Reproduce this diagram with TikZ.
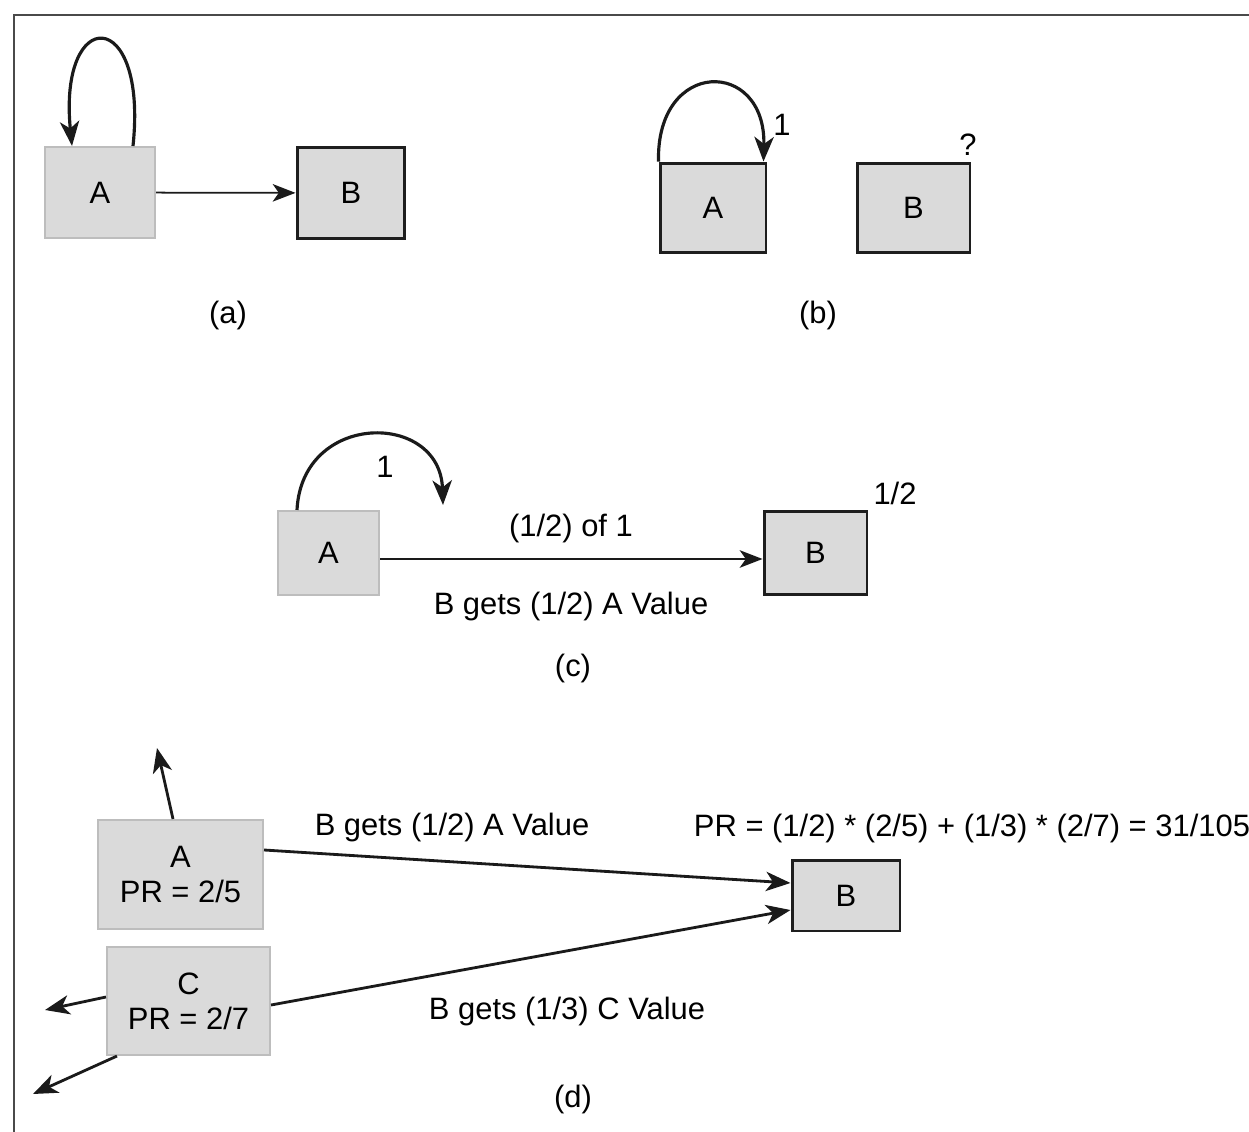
\documentclass[tikz,border=0pt]{standalone}
\usepackage{fontspec}
\setmainfont{Liberation Sans}
\usepackage{tikz}
\usetikzlibrary{positioning, calc, arrows.meta}
\definecolor{prBoxBg}{HTML}{DADADA}
\definecolor{prBoxLt}{HTML}{BDBDBD}
\definecolor{prBoxDk}{HTML}{1E1E1E}
\definecolor{prLine}{HTML}{1A1A1A}
\definecolor{prFrame}{HTML}{4A4A4A}
\newcommand{\prfont}{\fontsize{17.6}{20}\selectfont}

\begin{document}
\begin{tikzpicture}[
    x=0.02cm, y=-0.02cm,
    every node/.style={font=\prfont, text=black},
    lbox/.style={draw=prBoxLt, fill=prBoxBg, line width=1.2pt, align=center, inner sep=0pt},
    dbox/.style={draw=prBoxDk, fill=prBoxBg, line width=1.7pt, align=center, inner sep=0pt},
    arr/.style={-{Stealth[length=13pt, width=10pt, inset=3.5pt]}, line width=1pt, prLine},
    warr/.style={-{Stealth[length=14pt, width=11pt, inset=4pt]}, line width=1.6pt, prLine},
    lparr/.style={-{Stealth[length=14pt, width=11pt, inset=4pt]}, line width=1.8pt, prLine},
]
\useasboundingbox (0,0) rectangle (1249,1132);
\draw[prFrame, line width=1.4pt] (1249,15) -- (14,15) -- (14,1132);

% (a)
\node[lbox, minimum width=2.2cm, minimum height=1.82cm] (aA) at (100,192.5) {A};
\node[dbox, minimum width=2.16cm, minimum height=1.82cm] (aB) at (351,193) {B};
\draw[arr] (aA) -- (aB);
\draw[lparr] ($(aA.north)+(33,0)$) .. controls (148,5) and (58,5) .. ($(aA.north)+(-28,0)$);
\node (aLbl) at (228,315) {(a)};

% (b)
\node[dbox, minimum width=2.12cm, minimum height=1.8cm] (bA) at (713,208) {A};
\node[dbox, minimum width=2.26cm, minimum height=1.8cm] (bB) at (913.5,208) {B};
\draw[lparr] (bA.north west) .. controls (656,58) and (766,58) .. ($(bA.north east)+(-4,0)$);
\node (bOne) at (782,125) {1};
\node (bQ) at (968,145) {?};
\node (bLbl) at (818,315) {(b)};

% (c)
\node[lbox, minimum width=2.02cm, minimum height=1.68cm] (cA) at (328.5,553) {A};
\node[dbox, minimum width=2.06cm, minimum height=1.68cm] (cB) at (815.5,553) {B};
\coordinate (cTip) at (443,505);
\draw[lparr] ($(cA.north)+(-31.5,0)$) .. controls (302,411) and (440,411) .. (cTip);
\node (cOne) at (385,467) {1};
\draw[arr] ($(cA.east)+(0,6)$) -- ($(cB.west)+(0,6)$);
\node (cTop) at (571,528) {(1/2) of 1};
\node (cBot) at (571,607) {B gets (1/2) A Value};
\node (cHalf) at (895,493) {1/2};
\node (cLbl) at (573,668) {(c)};

% (d)
\node[lbox, minimum width=3.3cm, minimum height=2.18cm] (dA) at (180.5,874.5) {A\\PR = 2/5};
\node[lbox, minimum width=3.26cm, minimum height=2.16cm] (dC) at (188.5,1001) {C\\PR = 2/7};
\node[dbox, minimum width=2.16cm, minimum height=1.42cm] (dB) at (846,895.5) {B};
\coordinate (dAup) at (157,748);
\coordinate (dCl) at (45,1010);
\coordinate (dCdl) at (33,1094);
\draw[warr] ($(dA.north)+(-7.5,0)$) -- (dAup);
\draw[warr] ($(dC.west)+(0,-4)$) -- (dCl);
\draw[warr] ($(dC.south west)+(11,0)$) -- (dCdl);
\draw[warr] ($(dA.east)+(0,-24.5)$) -- ($(dB.west)+(0,-12.5)$);
\draw[warr] ($(dC.east)+(0,4)$) -- ($(dB.west)+(0,14.5)$);
\node (dTopA) at (452,828) {B gets (1/2) A Value};
\node (dPR) at (972,828) {PR = (1/2) * (2/5) + (1/3) * (2/7) = 31/105};
\node (dBotC) at (567,1012) {B gets (1/3) C Value};
\node (dLbl) at (573,1099) {(d)};
\end{tikzpicture}
\end{document}
